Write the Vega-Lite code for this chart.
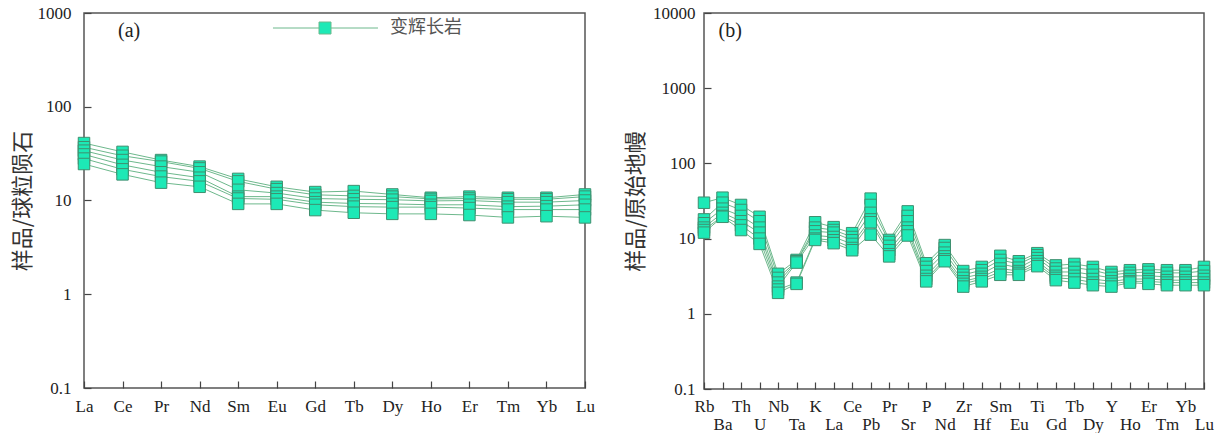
{
  "$schema": "https://vega.github.io/schema/vega-lite/v6.json",
  "background": "white",
  "padding": {"left": 10, "top": 3, "right": 5, "bottom": 0},
  "bounds": "flush",
  "spacing": 119,
  "config": {
    "view": {"stroke": "#555", "strokeWidth": 1.5},
    "axis": {"grid": false, "domain": false, "tickColor": "#444", "tickSize": -7, "tickWidth": 1.2,
      "labelFont": "Liberation Serif", "labelColor": "#222", "labelOverlap": false,
      "titleFont": "Noto Sans CJK SC", "titleFontWeight": "normal", "titleColor": "#333", "titleFontSize": 22}
  },
  "datasets": {
    "ree": [
      {"s":"1","el":"La","v":41,"rock":"变辉长岩"},{"s":"2","el":"La","v":37,"rock":"变辉长岩"},{"s":"3","el":"La","v":34,"rock":"变辉长岩"},{"s":"4","el":"La","v":31,"rock":"变辉长岩"},{"s":"5","el":"La","v":28,"rock":"变辉长岩"},{"s":"6","el":"La","v":24.5,"rock":"变辉长岩"},
      {"s":"1","el":"Ce","v":33,"rock":"变辉长岩"},{"s":"2","el":"Ce","v":30,"rock":"变辉长岩"},{"s":"3","el":"Ce","v":27,"rock":"变辉长岩"},{"s":"4","el":"Ce","v":24,"rock":"变辉长岩"},{"s":"5","el":"Ce","v":21.5,"rock":"变辉长岩"},{"s":"6","el":"Ce","v":19,"rock":"变辉长岩"},
      {"s":"1","el":"Pr","v":27,"rock":"变辉长岩"},{"s":"2","el":"Pr","v":26,"rock":"变辉长岩"},{"s":"3","el":"Pr","v":23,"rock":"变辉长岩"},{"s":"4","el":"Pr","v":20,"rock":"变辉长岩"},{"s":"5","el":"Pr","v":18,"rock":"变辉长岩"},{"s":"6","el":"Pr","v":15.5,"rock":"变辉长岩"},
      {"s":"1","el":"Nd","v":23,"rock":"变辉长岩"},{"s":"2","el":"Nd","v":22,"rock":"变辉长岩"},{"s":"3","el":"Nd","v":20,"rock":"变辉长岩"},{"s":"4","el":"Nd","v":17.5,"rock":"变辉长岩"},{"s":"5","el":"Nd","v":16,"rock":"变辉长岩"},{"s":"6","el":"Nd","v":14,"rock":"变辉长岩"},
      {"s":"1","el":"Sm","v":17,"rock":"变辉长岩"},{"s":"2","el":"Sm","v":16,"rock":"变辉长岩"},{"s":"3","el":"Sm","v":13,"rock":"变辉长岩"},{"s":"4","el":"Sm","v":11,"rock":"变辉长岩"},{"s":"5","el":"Sm","v":10.5,"rock":"变辉长岩"},{"s":"6","el":"Sm","v":9.2,"rock":"变辉长岩"},
      {"s":"1","el":"Eu","v":14,"rock":"变辉长岩"},{"s":"2","el":"Eu","v":13.2,"rock":"变辉长岩"},{"s":"3","el":"Eu","v":12,"rock":"变辉长岩"},{"s":"4","el":"Eu","v":11,"rock":"变辉长岩"},{"s":"5","el":"Eu","v":10.3,"rock":"变辉长岩"},{"s":"6","el":"Eu","v":9.2,"rock":"变辉长岩"},
      {"s":"1","el":"Gd","v":12.3,"rock":"变辉长岩"},{"s":"2","el":"Gd","v":11.5,"rock":"变辉长岩"},{"s":"3","el":"Gd","v":10.5,"rock":"变辉长岩"},{"s":"4","el":"Gd","v":9.6,"rock":"变辉长岩"},{"s":"5","el":"Gd","v":9,"rock":"变辉长岩"},{"s":"6","el":"Gd","v":7.9,"rock":"变辉长岩"},
      {"s":"1","el":"Tb","v":12.6,"rock":"变辉长岩"},{"s":"2","el":"Tb","v":11.2,"rock":"变辉长岩"},{"s":"3","el":"Tb","v":10.3,"rock":"变辉长岩"},{"s":"4","el":"Tb","v":9.3,"rock":"变辉长岩"},{"s":"5","el":"Tb","v":8.6,"rock":"变辉长岩"},{"s":"6","el":"Tb","v":7.4,"rock":"变辉长岩"},
      {"s":"1","el":"Dy","v":11.6,"rock":"变辉长岩"},{"s":"2","el":"Dy","v":11,"rock":"变辉长岩"},{"s":"3","el":"Dy","v":10.2,"rock":"变辉长岩"},{"s":"4","el":"Dy","v":9.2,"rock":"变辉长岩"},{"s":"5","el":"Dy","v":8.5,"rock":"变辉长岩"},{"s":"6","el":"Dy","v":7.2,"rock":"变辉长岩"},
      {"s":"1","el":"Ho","v":10.7,"rock":"变辉长岩"},{"s":"2","el":"Ho","v":10.4,"rock":"变辉长岩"},{"s":"3","el":"Ho","v":9.9,"rock":"变辉长岩"},{"s":"4","el":"Ho","v":9,"rock":"变辉长岩"},{"s":"5","el":"Ho","v":8.5,"rock":"变辉长岩"},{"s":"6","el":"Ho","v":7.2,"rock":"变辉长岩"},
      {"s":"1","el":"Er","v":11,"rock":"变辉长岩"},{"s":"2","el":"Er","v":10.5,"rock":"变辉长岩"},{"s":"3","el":"Er","v":10,"rock":"变辉长岩"},{"s":"4","el":"Er","v":9,"rock":"变辉长岩"},{"s":"5","el":"Er","v":8.3,"rock":"变辉长岩"},{"s":"6","el":"Er","v":7,"rock":"变辉长岩"},
      {"s":"1","el":"Tm","v":10.7,"rock":"变辉长岩"},{"s":"2","el":"Tm","v":10.3,"rock":"变辉长岩"},{"s":"3","el":"Tm","v":9.6,"rock":"变辉长岩"},{"s":"4","el":"Tm","v":8.6,"rock":"变辉长岩"},{"s":"5","el":"Tm","v":8,"rock":"变辉长岩"},{"s":"6","el":"Tm","v":6.6,"rock":"变辉长岩"},
      {"s":"1","el":"Yb","v":10.7,"rock":"变辉长岩"},{"s":"2","el":"Yb","v":10.3,"rock":"变辉长岩"},{"s":"3","el":"Yb","v":9.6,"rock":"变辉长岩"},{"s":"4","el":"Yb","v":8.7,"rock":"变辉长岩"},{"s":"5","el":"Yb","v":8,"rock":"变辉长岩"},{"s":"6","el":"Yb","v":6.8,"rock":"变辉长岩"},
      {"s":"1","el":"Lu","v":11.6,"rock":"变辉长岩"},{"s":"2","el":"Lu","v":11,"rock":"变辉长岩"},{"s":"3","el":"Lu","v":10,"rock":"变辉长岩"},{"s":"4","el":"Lu","v":9,"rock":"变辉长岩"},{"s":"5","el":"Lu","v":8,"rock":"变辉长岩"},{"s":"6","el":"Lu","v":6.6,"rock":"变辉长岩"}
    ],
    "spider": [
      {"s":"1","el":"Rb","v":30},{"s":"2","el":"Rb","v":18},{"s":"3","el":"Rb","v":16},{"s":"4","el":"Rb","v":14},{"s":"5","el":"Rb","v":13},{"s":"6","el":"Rb","v":12},
      {"s":"1","el":"Ba","v":35},{"s":"2","el":"Ba","v":30},{"s":"3","el":"Ba","v":25},{"s":"4","el":"Ba","v":22},{"s":"5","el":"Ba","v":20},{"s":"6","el":"Ba","v":19.5},
      {"s":"1","el":"Th","v":28},{"s":"2","el":"Th","v":24},{"s":"3","el":"Th","v":20},{"s":"4","el":"Th","v":17},{"s":"5","el":"Th","v":15},{"s":"6","el":"Th","v":13},
      {"s":"1","el":"U","v":19.5},{"s":"2","el":"U","v":17},{"s":"3","el":"U","v":14},{"s":"4","el":"U","v":12},{"s":"5","el":"U","v":10},{"s":"6","el":"U","v":8.5},
      {"s":"1","el":"Nb","v":3.4},{"s":"2","el":"Nb","v":3.0},{"s":"3","el":"Nb","v":2.6},{"s":"4","el":"Nb","v":2.3},{"s":"5","el":"Nb","v":2.1},{"s":"6","el":"Nb","v":1.9},
      {"s":"1","el":"Ta","v":5.2},{"s":"2","el":"Ta","v":5.0},{"s":"3","el":"Ta","v":5.0},{"s":"4","el":"Ta","v":4.8},{"s":"5","el":"Ta","v":2.6},{"s":"6","el":"Ta","v":2.5},
      {"s":"1","el":"K","v":16.5},{"s":"2","el":"K","v":14},{"s":"3","el":"K","v":12.5},{"s":"4","el":"K","v":11},{"s":"5","el":"K","v":10},{"s":"6","el":"K","v":9.6},
      {"s":"1","el":"La","v":14.2},{"s":"2","el":"La","v":13},{"s":"3","el":"La","v":12},{"s":"4","el":"La","v":10.5},{"s":"5","el":"La","v":9.5},{"s":"6","el":"La","v":8.7},
      {"s":"1","el":"Ce","v":11.8},{"s":"2","el":"Ce","v":10.5},{"s":"3","el":"Ce","v":9.5},{"s":"4","el":"Ce","v":8.5},{"s":"5","el":"Ce","v":7.5},{"s":"6","el":"Ce","v":7.0},
      {"s":"1","el":"Pb","v":34},{"s":"2","el":"Pb","v":28},{"s":"3","el":"Pb","v":22},{"s":"4","el":"Pb","v":18},{"s":"5","el":"Pb","v":16.5},{"s":"6","el":"Pb","v":11.3},
      {"s":"1","el":"Pr","v":9.6},{"s":"2","el":"Pr","v":9.0},{"s":"3","el":"Pr","v":8.0},{"s":"4","el":"Pr","v":7.0},{"s":"5","el":"Pr","v":6.2},{"s":"6","el":"Pr","v":5.8},
      {"s":"1","el":"Sr","v":23},{"s":"2","el":"Sr","v":20},{"s":"3","el":"Sr","v":17},{"s":"4","el":"Sr","v":14},{"s":"5","el":"Sr","v":12.5},{"s":"6","el":"Sr","v":11},
      {"s":"1","el":"P","v":4.7},{"s":"2","el":"P","v":4.2},{"s":"3","el":"P","v":3.7},{"s":"4","el":"P","v":3.2},{"s":"5","el":"P","v":2.9},{"s":"6","el":"P","v":2.7},
      {"s":"1","el":"Nd","v":8.2},{"s":"2","el":"Nd","v":7.5},{"s":"3","el":"Nd","v":6.5},{"s":"4","el":"Nd","v":5.8},{"s":"5","el":"Nd","v":5.3},{"s":"6","el":"Nd","v":5.0},
      {"s":"1","el":"Zr","v":3.7},{"s":"2","el":"Zr","v":3.3},{"s":"3","el":"Zr","v":3.0},{"s":"4","el":"Zr","v":2.7},{"s":"5","el":"Zr","v":2.5},{"s":"6","el":"Zr","v":2.3},
      {"s":"1","el":"Hf","v":4.2},{"s":"2","el":"Hf","v":3.8},{"s":"3","el":"Hf","v":3.4},{"s":"4","el":"Hf","v":3.1},{"s":"5","el":"Hf","v":2.9},{"s":"6","el":"Hf","v":2.7},
      {"s":"1","el":"Sm","v":5.9},{"s":"2","el":"Sm","v":5.2},{"s":"3","el":"Sm","v":4.6},{"s":"4","el":"Sm","v":4.0},{"s":"5","el":"Sm","v":3.6},{"s":"6","el":"Sm","v":3.3},
      {"s":"1","el":"Eu","v":5.0},{"s":"2","el":"Eu","v":4.6},{"s":"3","el":"Eu","v":4.1},{"s":"4","el":"Eu","v":3.7},{"s":"5","el":"Eu","v":3.5},{"s":"6","el":"Eu","v":3.3},
      {"s":"1","el":"Ti","v":6.4},{"s":"2","el":"Ti","v":6.0},{"s":"3","el":"Ti","v":5.5},{"s":"4","el":"Ti","v":5.0},{"s":"5","el":"Ti","v":4.6},{"s":"6","el":"Ti","v":4.3},
      {"s":"1","el":"Gd","v":4.4},{"s":"2","el":"Gd","v":4.0},{"s":"3","el":"Gd","v":3.6},{"s":"4","el":"Gd","v":3.2},{"s":"5","el":"Gd","v":3.0},{"s":"6","el":"Gd","v":2.8},
      {"s":"1","el":"Tb","v":4.6},{"s":"2","el":"Tb","v":4.1},{"s":"3","el":"Tb","v":3.6},{"s":"4","el":"Tb","v":3.2},{"s":"5","el":"Tb","v":2.9},{"s":"6","el":"Tb","v":2.6},
      {"s":"1","el":"Dy","v":4.2},{"s":"2","el":"Dy","v":3.8},{"s":"3","el":"Dy","v":3.3},{"s":"4","el":"Dy","v":2.9},{"s":"5","el":"Dy","v":2.6},{"s":"6","el":"Dy","v":2.4},
      {"s":"1","el":"Y","v":3.6},{"s":"2","el":"Y","v":3.3},{"s":"3","el":"Y","v":3.0},{"s":"4","el":"Y","v":2.7},{"s":"5","el":"Y","v":2.5},{"s":"6","el":"Y","v":2.3},
      {"s":"1","el":"Ho","v":3.8},{"s":"2","el":"Ho","v":3.5},{"s":"3","el":"Ho","v":3.2},{"s":"4","el":"Ho","v":2.9},{"s":"5","el":"Ho","v":2.7},{"s":"6","el":"Ho","v":2.6},
      {"s":"1","el":"Er","v":3.9},{"s":"2","el":"Er","v":3.6},{"s":"3","el":"Er","v":3.2},{"s":"4","el":"Er","v":2.9},{"s":"5","el":"Er","v":2.7},{"s":"6","el":"Er","v":2.5},
      {"s":"1","el":"Tm","v":3.8},{"s":"2","el":"Tm","v":3.5},{"s":"3","el":"Tm","v":3.1},{"s":"4","el":"Tm","v":2.8},{"s":"5","el":"Tm","v":2.6},{"s":"6","el":"Tm","v":2.4},
      {"s":"1","el":"Yb","v":3.8},{"s":"2","el":"Yb","v":3.5},{"s":"3","el":"Yb","v":3.1},{"s":"4","el":"Yb","v":2.8},{"s":"5","el":"Yb","v":2.6},{"s":"6","el":"Yb","v":2.4},
      {"s":"1","el":"Lu","v":4.2},{"s":"2","el":"Lu","v":3.7},{"s":"3","el":"Lu","v":3.2},{"s":"4","el":"Lu","v":2.9},{"s":"5","el":"Lu","v":2.6},{"s":"6","el":"Lu","v":2.4}
    ]
  },
  "hconcat": [
    {
      "width": 501, "height": 375,
      "data": {"name": "ree"},
      "title": {"text": "(a)", "anchor": "start", "dx": 107, "offset": -37, "font": "Liberation Serif", "fontSize": 20, "fontWeight": "normal", "color": "#222"},
      "encoding": {
        "x": {"field": "el", "type": "ordinal",
          "sort": ["La","Ce","Pr","Nd","Sm","Eu","Gd","Tb","Dy","Ho","Er","Tm","Yb","Lu"],
          "scale": {"type": "point", "padding": 0},
          "axis": {"title": null, "labelAngle": 0, "labelFontSize": 17, "labelPadding": 17}},
        "y": {"field": "v", "type": "quantitative",
          "scale": {"type": "log", "domain": [0.1, 1000]},
          "axis": {"title": "样品/球粒陨石", "values": [0.1, 1, 10, 100, 1000], "format": "~g", "labelFontSize": 17, "labelPadding": 20, "titlePadding": 3}}
      },
      "layer": [
        {"mark": {"type": "line", "stroke": "#6db88c", "strokeWidth": 1}, "encoding": {"detail": {"field": "s"}}},
        {"mark": {"type": "point", "shape": "square", "filled": true, "size": 132, "stroke": "#3f8f6f", "strokeWidth": 1, "opacity": 1},
         "encoding": {"fill": {"field": "rock", "type": "nominal", "scale": {"range": ["#1de9b6"]},
           "legend": {"title": null, "orient": "none", "legendX": 232, "legendY": 6, "padding": 0,
             "symbolType": "M -8.67 0 L -1 0 M 1 0 L 8.83 0 M -1 -1 L 1 -1 L 1 1 L -1 1 Z",
             "symbolSize": 144, "symbolStrokeColor": "#6db88c", "symbolStrokeWidth": 1, "symbolFillColor": "#1de9b6",
             "labelOffset": 56, "labelFont": "Noto Sans CJK SC", "labelFontSize": 18, "labelColor": "#555"}}}}
      ]
    },
    {
      "width": 500, "height": 376,
      "data": {"name": "spider"},
      "title": {"text": "(b)", "anchor": "start", "dx": 94, "offset": -37, "font": "Liberation Serif", "fontSize": 20, "fontWeight": "normal", "color": "#222"},
      "encoding": {
        "x": {"field": "el", "type": "ordinal",
          "sort": ["Rb","Ba","Th","U","Nb","Ta","K","La","Ce","Pb","Pr","Sr","P","Nd","Zr","Hf","Sm","Eu","Ti","Gd","Tb","Dy","Y","Ho","Er","Tm","Yb","Lu"],
          "scale": {"type": "point", "padding": 0},
          "axis": {"title": null, "labelAngle": 0, "labelFontSize": 17, "labelPadding": 16, "labelLineHeight": 18,
            "labelExpr": "indexof(['Ba','U','Ta','La','Pb','Sr','Nd','Hf','Eu','Gd','Dy','Ho','Tm','Lu'], datum.label) >= 0 ? ['', datum.label] : datum.label"}},
        "y": {"field": "v", "type": "quantitative",
          "scale": {"type": "log", "domain": [0.1, 10000]},
          "axis": {"title": "样品/原始地幔", "values": [0.1, 1, 10, 100, 1000, 10000], "format": "~g", "labelFontSize": 17, "labelPadding": 16, "titlePadding": 5}}
      },
      "layer": [
        {"mark": {"type": "line", "stroke": "#6db88c", "strokeWidth": 1}, "encoding": {"detail": {"field": "s"}}},
        {"mark": {"type": "point", "shape": "square", "filled": true, "size": 132, "fill": "#1de9b6", "stroke": "#3f8f6f", "strokeWidth": 1, "opacity": 1}}
      ]
    }
  ]
}
